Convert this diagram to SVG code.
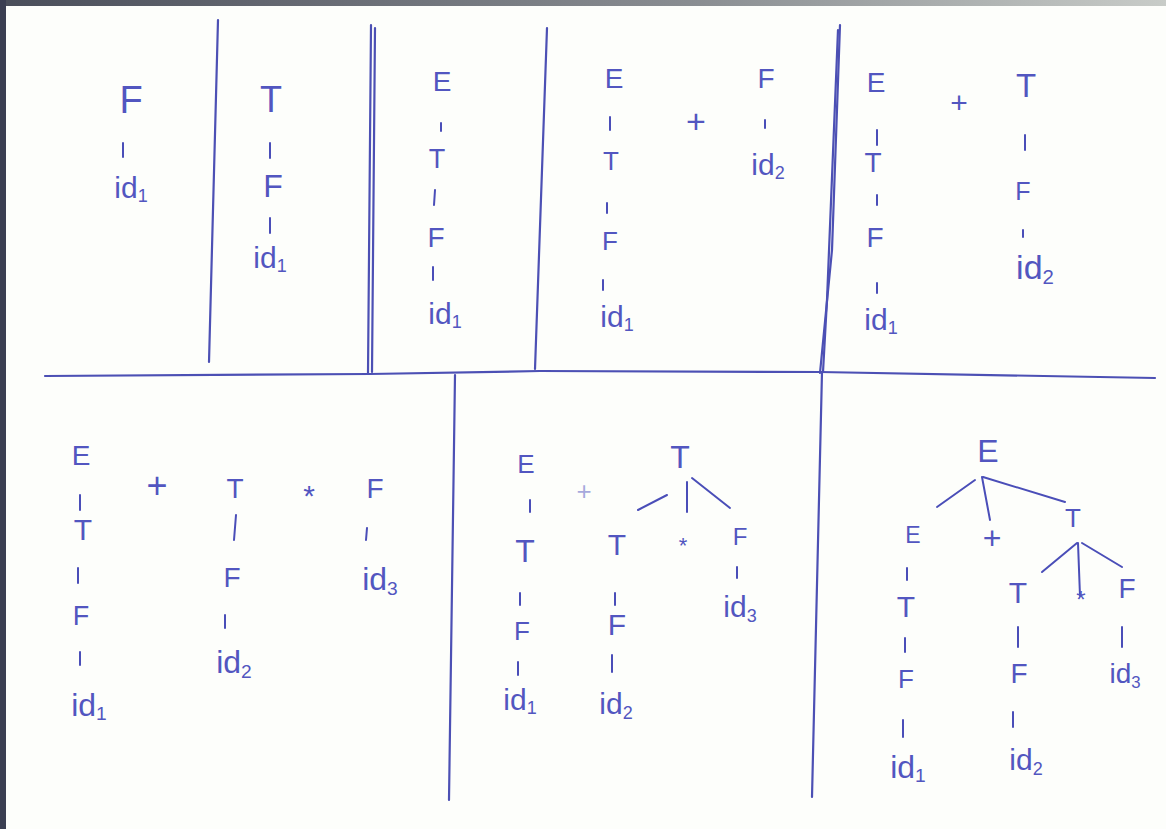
<svg xmlns="http://www.w3.org/2000/svg" width="1166" height="829" viewBox="0 0 1166 829">
<defs>
<linearGradient id="topEdge" x1="0" y1="0" x2="1" y2="0">
<stop offset="0" stop-color="#4a4e5a"/>
<stop offset="0.6" stop-color="#8a8e92"/>
<stop offset="1" stop-color="#c8ccc8"/>
</linearGradient>
<style>
.t{font-family:"Liberation Sans",Arial,sans-serif;fill:#5256c0;text-anchor:middle}
.l{stroke:#4a4eb8;stroke-width:2;fill:none;stroke-linecap:round;stroke-linejoin:round}
.d{stroke:#4c50b4;stroke-width:2.2;fill:none;stroke-linecap:round;stroke-linejoin:round}
.s{font-size:60%}
</style>
</defs>
<rect x="0" y="0" width="1166" height="829" fill="#fdfefb"/>
<rect x="0" y="0" width="1166" height="6" fill="url(#topEdge)"/>
<rect x="0" y="0" width="6" height="829" fill="#3b3f52"/>

<g id="dividers">
<path class="d" d="M218,20 L209,362"/>
<path class="d" d="M371,25 L368,373"/>
<path class="d" d="M375,28 L372,372"/>
<path class="d" d="M547,28 L535,369"/>
<path class="d" d="M840,25 L832,250 L820,373"/>
<path class="d" d="M838,30 L827,300 L823,372"/>
<path class="d" d="M45,376 L370,374 L540,371 L820,372 L1155,378"/>
<path class="d" d="M455,375 L449,800"/>
<path class="d" d="M822,372 L812,797"/>
</g>

<g id="connectors">
<path class="l" d="M123,143 L123,157"/>
<path class="l" d="M270,143 L270,158"/>
<path class="l" d="M270,218 L270,233"/>
<path class="l" d="M441,123 L441,131"/>
<path class="l" d="M435,190 L434,205"/>
<path class="l" d="M433,267 L433,280"/>
<path class="l" d="M610,117 L610,130"/>
<path class="l" d="M607,203 L607,213"/>
<path class="l" d="M603,280 L603,290"/>
<path class="l" d="M765,120 L765,128"/>
<path class="l" d="M877,130 L877,145"/>
<path class="l" d="M877,195 L877,205"/>
<path class="l" d="M877,283 L877,293"/>
<path class="l" d="M1025,135 L1025,150"/>
<path class="l" d="M1023,230 L1023,237"/>
<path class="l" d="M80,495 L80,510"/>
<path class="l" d="M78,568 L78,583"/>
<path class="l" d="M80,652 L80,665"/>
<path class="l" d="M236,515 L234,540"/>
<path class="l" d="M225,615 L225,628"/>
<path class="l" d="M367,528 L366,540"/>
<path class="l" d="M530,500 L530,512"/>
<path class="l" d="M520,593 L520,605"/>
<path class="l" d="M518,662 L518,675"/>
<path class="l" d="M667,495 L638,510"/>
<path class="l" d="M687,482 L687,512"/>
<path class="l" d="M692,478 L730,508"/>
<path class="l" d="M615,593 L615,605"/>
<path class="l" d="M612,655 L612,672"/>
<path class="l" d="M737,567 L737,578"/>
<path class="l" d="M975,480 L937,507"/>
<path class="l" d="M982,477 L990,520"/>
<path class="l" d="M983,477 L1065,502"/>
<path class="l" d="M907,568 L907,580"/>
<path class="l" d="M905,638 L905,652"/>
<path class="l" d="M903,720 L903,737"/>
<path class="l" d="M1077,543 L1042,572"/>
<path class="l" d="M1078,543 L1080,596"/>
<path class="l" d="M1082,543 L1122,567"/>
<path class="l" d="M1018,627 L1018,647"/>
<path class="l" d="M1013,712 L1013,727"/>
<path class="l" d="M1122,627 L1122,647"/>
</g>

<g id="nodes" font-size="28">
<g id="p1-F"><text class="t" x="131" y="113" font-size="38">F</text></g>
<g id="p1-id1"><text class="t" x="131" y="198" font-size="30">id<tspan class="s" dy="4">1</tspan></text></g>
<g id="p2-T"><text class="t" x="271" y="112" font-size="36">T</text></g>
<g id="p2-F"><text class="t" x="273" y="197" font-size="32">F</text></g>
<g id="p2-id1"><text class="t" x="270" y="268" font-size="30">id<tspan class="s" dy="4">1</tspan></text></g>
<g id="p3-E"><text class="t" x="442" y="91">E</text></g>
<g id="p3-T"><text class="t" x="437" y="168" font-size="27">T</text></g>
<g id="p3-F"><text class="t" x="436" y="247">F</text></g>
<g id="p3-id1"><text class="t" x="445" y="324" font-size="30">id<tspan class="s" dy="4">1</tspan></text></g>
<g id="p4-E"><text class="t" x="614" y="88">E</text></g>
<g id="p4-T"><text class="t" x="611" y="170" font-size="26">T</text></g>
<g id="p4-F"><text class="t" x="610" y="250" font-size="26">F</text></g>
<g id="p4-id1"><text class="t" x="617" y="327" font-size="30">id<tspan class="s" dy="4">1</tspan></text></g>
<g id="p4-plus"><text class="t" x="696" y="133" font-size="34">+</text></g>
<g id="p4-F2"><text class="t" x="766" y="88">F</text></g>
<g id="p4-id2"><text class="t" x="768" y="175" font-size="30">id<tspan class="s" dy="4">2</tspan></text></g>
<g id="p5-E"><text class="t" x="876" y="92">E</text></g>
<g id="p5-T"><text class="t" x="873" y="172">T</text></g>
<g id="p5-F"><text class="t" x="875" y="247">F</text></g>
<g id="p5-id1"><text class="t" x="881" y="330" font-size="30">id<tspan class="s" dy="4">1</tspan></text></g>
<g id="p5-plus"><text class="t" x="959" y="113" font-size="30">+</text></g>
<g id="p5-T2"><text class="t" x="1026" y="97" font-size="33">T</text></g>
<g id="p5-F2"><text class="t" x="1023" y="200" font-size="25">F</text></g>
<g id="p5-id2"><text class="t" x="1035" y="279" font-size="34">id<tspan class="s" dy="5">2</tspan></text></g>
<g id="p6-E"><text class="t" x="81" y="465">E</text></g>
<g id="p6-T"><text class="t" x="83" y="540" font-size="30">T</text></g>
<g id="p6-F"><text class="t" x="81" y="625" font-size="27">F</text></g>
<g id="p6-id1"><text class="t" x="89" y="716" font-size="32">id<tspan class="s" dy="4">1</tspan></text></g>
<g id="p6-plus"><text class="t" x="157" y="498" font-size="36">+</text></g>
<g id="p6-T2"><text class="t" x="235" y="498">T</text></g>
<g id="p6-F2"><text class="t" x="232" y="587">F</text></g>
<g id="p6-id2"><text class="t" x="234" y="673" font-size="32">id<tspan class="s" dy="5">2</tspan></text></g>
<g id="p6-star"><text class="t" x="309" y="506" font-size="30">*</text></g>
<g id="p6-F3"><text class="t" x="375" y="498">F</text></g>
<g id="p6-id3"><text class="t" x="380" y="590" font-size="32">id<tspan class="s" dy="5">3</tspan></text></g>
<g id="p7-E"><text class="t" x="526" y="473" font-size="26">E</text></g>
<g id="p7-T"><text class="t" x="525" y="562" font-size="32">T</text></g>
<g id="p7-F"><text class="t" x="522" y="640" font-size="26">F</text></g>
<g id="p7-id1"><text class="t" x="520" y="710" font-size="30">id<tspan class="s" dy="4">1</tspan></text></g>
<g id="p7-plus"><text class="t" x="584" y="500" font-size="26" opacity="0.5">+</text></g>
<g id="p7-Ttop"><text class="t" x="680" y="468" font-size="32">T</text></g>
<g id="p7-T2"><text class="t" x="617" y="555" font-size="30">T</text></g>
<g id="p7-F2"><text class="t" x="617" y="635" font-size="30">F</text></g>
<g id="p7-id2"><text class="t" x="616" y="714" font-size="30">id<tspan class="s" dy="5">2</tspan></text></g>
<g id="p7-star"><text class="t" x="683" y="553" font-size="22">*</text></g>
<g id="p7-F3"><text class="t" x="740" y="545" font-size="24">F</text></g>
<g id="p7-id3"><text class="t" x="740" y="617" font-size="30">id<tspan class="s" dy="5">3</tspan></text></g>
<g id="p8-Etop"><text class="t" x="988" y="462" font-size="32">E</text></g>
<g id="p8-E"><text class="t" x="913" y="543" font-size="23">E</text></g>
<g id="p8-T"><text class="t" x="906" y="617" font-size="30">T</text></g>
<g id="p8-F"><text class="t" x="906" y="688" font-size="26">F</text></g>
<g id="p8-id1"><text class="t" x="908" y="778" font-size="32">id<tspan class="s" dy="4">1</tspan></text></g>
<g id="p8-plus"><text class="t" x="992" y="549" font-size="32">+</text></g>
<g id="p8-Tmid"><text class="t" x="1073" y="527" font-size="26">T</text></g>
<g id="p8-T2"><text class="t" x="1018" y="603" font-size="30">T</text></g>
<g id="p8-F2"><text class="t" x="1019" y="683">F</text></g>
<g id="p8-id2"><text class="t" x="1026" y="770" font-size="30">id<tspan class="s" dy="5">2</tspan></text></g>
<g id="p8-star"><text class="t" x="1081" y="608" font-size="24">*</text></g>
<g id="p8-F3"><text class="t" x="1127" y="598">F</text></g>
<g id="p8-id3"><text class="t" x="1125" y="683" font-size="28">id<tspan class="s" dy="5">3</tspan></text></g>
</g>
</svg>
